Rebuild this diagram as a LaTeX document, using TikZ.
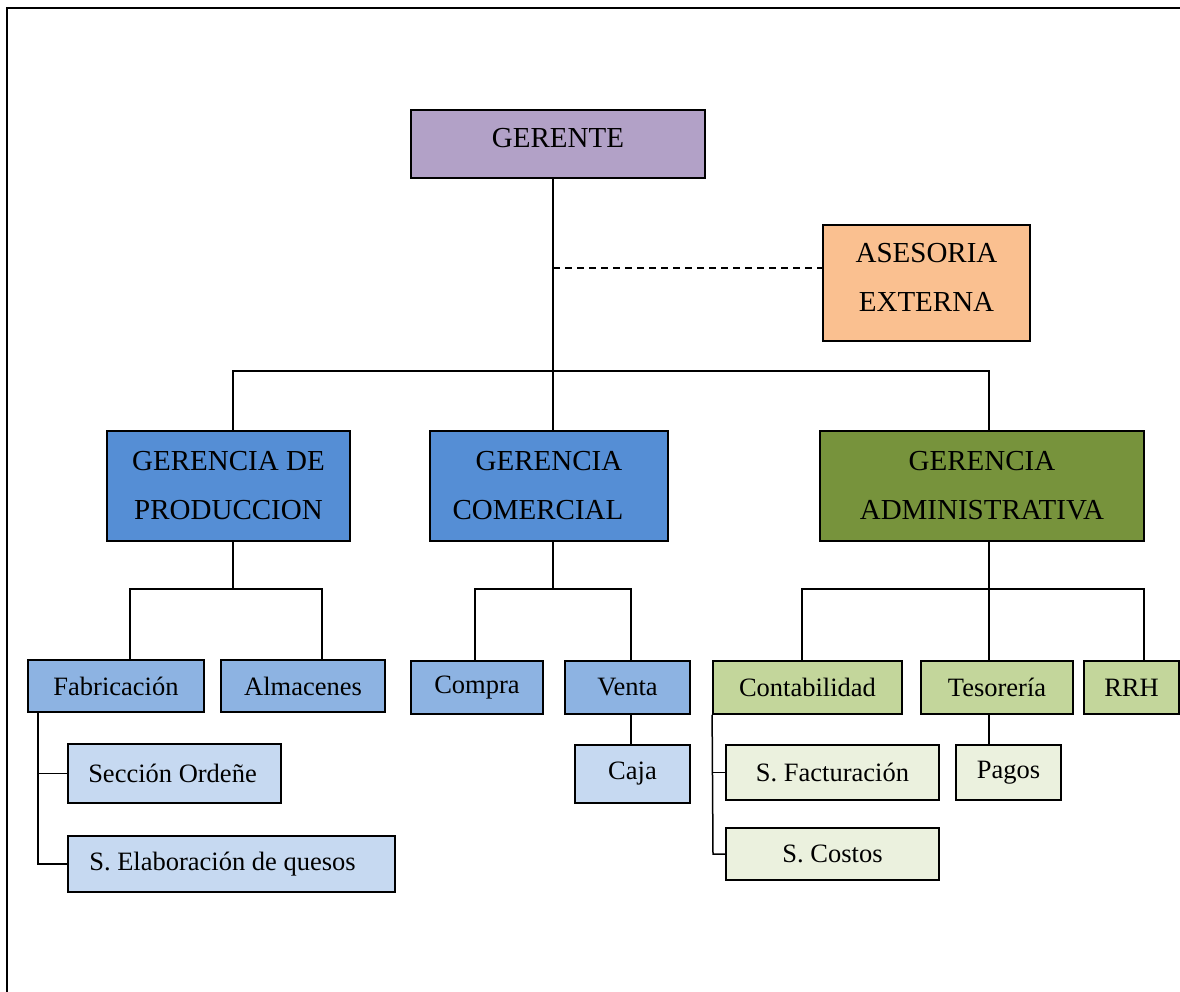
\documentclass[tikz,border=0pt]{standalone}
\usepackage{fontspec}
\setmainfont{Liberation Serif}
\definecolor{cger}{HTML}{B2A1C7}
\definecolor{case}{HTML}{FAC090}
\definecolor{cblue}{HTML}{558ED5}
\definecolor{cgreen}{HTML}{77933C}
\definecolor{csblue}{HTML}{8DB3E2}
\definecolor{clblue}{HTML}{C6D9F1}
\definecolor{csgreen}{HTML}{C3D69B}
\definecolor{clgreen}{HTML}{EBF1DE}
\tikzset{
  box/.style={draw=black, line width=1.8pt, inner sep=0pt, align=center, text=black},
  bigbox/.style={box, font=\fontsize{29}{49}\selectfont},
  smallbox/.style={box, font=\fontsize{26.5}{32}\selectfont},
  conn/.style={line width=1.5pt, draw=black},
}
\begin{document}
\begin{tikzpicture}[x=1pt,y=-1pt]
\useasboundingbox (0,0) rectangle (1180,992);
\clip (0,0) rectangle (1180,992);
\fill[white] (0,0) rectangle (1180,992);
\draw[line width=2pt] (7,1100) -- (7,8) -- (1300,8);

% top level
\node[bigbox, fill=cger, minimum width=294pt, minimum height=68pt] (ger) at (558,144) {\raisebox{12pt}{GERENTE}};
\node[bigbox, fill=case, minimum width=207pt, minimum height=116pt] (ase) at (926.5,283) {};
\node[bigbox, draw=none, fill=none] (asetext) at (926.5,277.5) {ASESORIA\\EXTERNA};

% second level
\node[bigbox, fill=cblue, minimum width=243pt, minimum height=110pt] (gp) at (228.5,486) {GERENCIA DE\\PRODUCCION};
\node[bigbox, fill=cblue, minimum width=238pt, minimum height=110pt] (gc) at (549,486) {GERENCIA\\COMERCIAL\hspace*{22pt}};
\node[bigbox, fill=cgreen, minimum width=324pt, minimum height=110pt] (ga) at (982,486) {GERENCIA\\ADMINISTRATIVA};

% third level
\node[smallbox, fill=csblue, minimum width=176pt, minimum height=52pt] (fab) at (116,686) {Fabricación};
\node[smallbox, fill=csblue, minimum width=164pt, minimum height=52pt] (alm) at (303,686) {Almacenes};
\node[smallbox, fill=csblue, minimum width=132pt, minimum height=53pt] (com) at (477,687.5) {Compra};
\node[smallbox, fill=csblue, minimum width=125pt, minimum height=53pt] (ven) at (627.5,687.5) {Venta};
\node[smallbox, fill=csgreen, minimum width=189pt, minimum height=53pt] (con) at (807.5,687.5) {Contabilidad};
\node[smallbox, fill=csgreen, minimum width=152pt, minimum height=53pt] (tes) at (997,687.5) {Tesorería};
\node[smallbox, fill=csgreen, minimum width=95pt, minimum height=53pt] (rrh) at (1131.5,687.5) {RRH};

% fourth level
\node[smallbox, fill=clblue, minimum width=213pt, minimum height=59pt] (sec) at (174.5,773.5) {Sección Ordeñe\hspace*{4pt}};
\node[smallbox, fill=clblue, minimum width=327pt, minimum height=56pt] (ela) at (231.5,864) {S. Elaboración de quesos\hspace*{18pt}};
\node[smallbox, fill=clblue, minimum width=115pt, minimum height=58pt] (caja) at (632.5,774) {Caja};
\node[smallbox, fill=clgreen, minimum width=213pt, minimum height=55pt] (fac) at (832.5,772.5) {S. Facturación};
\node[smallbox, fill=clgreen, minimum width=213pt, minimum height=52pt] (cos) at (832.5,854) {S. Costos};
\node[smallbox, fill=clgreen, minimum width=105pt, minimum height=55pt] (pag) at (1008.5,772.5) {Pagos};

% helper coordinates
\coordinate (trunk) at (553,371);
\coordinate (dashpt) at (553,268);
\coordinate (busL) at (233,371);
\coordinate (busR) at (989,371);
\coordinate (pbus) at (233,589);
\coordinate (pbusL) at (130,589);
\coordinate (pbusR) at (322,589);
\coordinate (cbus) at (553,589);
\coordinate (cbusL) at (475,589);
\coordinate (cbusR) at (631,589);
\coordinate (abus) at (989,589);
\coordinate (abusL) at (802,589);
\coordinate (abusR) at (1144,589);
\coordinate (fabx) at (38,0);
\coordinate (conx) at (713,0);

% connectors
\draw[conn] (ger.south -| trunk) -- (gc.north -| trunk);
\draw[conn, dash pattern=on 7pt off 5pt] (dashpt) -- (dashpt -| ase.west);
\draw[conn] (gp.north -| busL) -- (busL) -- (busR) -- (ga.north -| busR);

\draw[conn] (gp.south -| pbus) -- (pbus);
\draw[conn] (fab.north -| pbusL) -- (pbusL) -- (pbusR) -- (alm.north -| pbusR);
\draw[conn] (gc.south -| cbus) -- (cbus);
\draw[conn] (com.north -| cbusL) -- (cbusL) -- (cbusR) -- (ven.north -| cbusR);
\draw[conn] (ga.south -| abus) -- (abus);
\draw[conn] (con.north -| abusL) -- (abusL) -- (abusR) -- (rrh.north -| abusR);
\draw[conn] (abus) -- (tes.north -| abus);

\draw[conn] (fab.south -| fabx) -- (ela.west -| fabx) -- (ela.west);
\draw[conn] (sec.west -| fabx) -- (sec.west);
\draw[conn] (ven.south -| cbusR) -- (caja.north -| cbusR);
\draw[conn] (con.south west) -- (cos.west -| conx) -- (cos.west);
\draw[conn] (fac.west -| conx) -- (fac.west);
\draw[conn] (tes.south -| abus) -- (pag.north -| abus);
\end{tikzpicture}
\end{document}
